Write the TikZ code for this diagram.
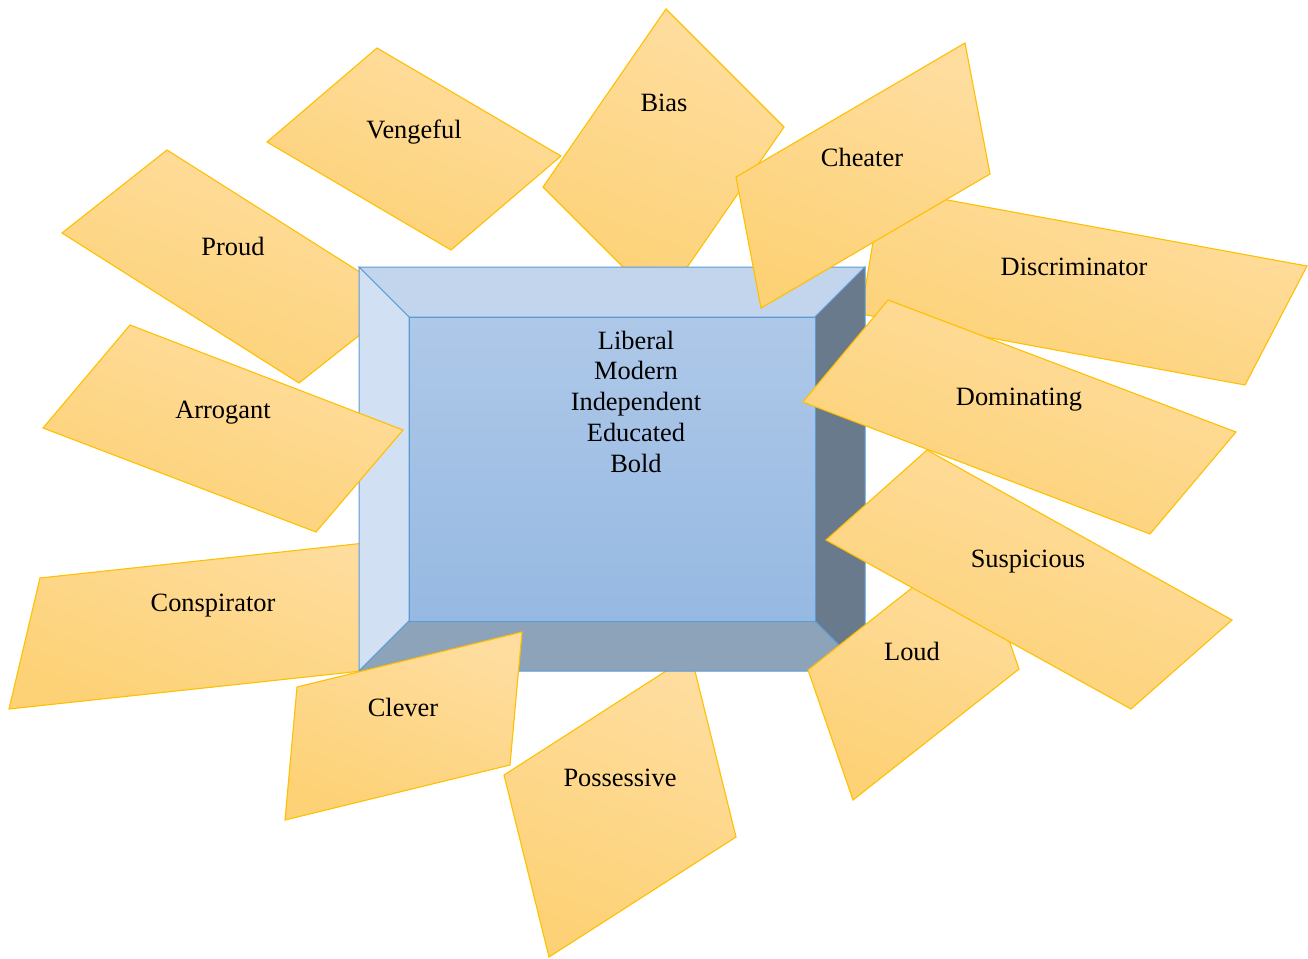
\documentclass[tikz,border=0pt]{standalone}
\usepackage{fontspec}
\setmainfont{Liberation Serif}
\definecolor{cardline}{HTML}{FFC000}
\definecolor{cardlight}{HTML}{FEDD9F}
\definecolor{carddark}{HTML}{FDD175}
\definecolor{boxline}{HTML}{5B9BD5}
\definecolor{bevtop}{HTML}{C2D5ED}
\definecolor{bevleft}{HTML}{D1E0F2}
\definecolor{bevright}{HTML}{6A7A8D}
\definecolor{bevbottom}{HTML}{8DA3BA}
\definecolor{facetop}{HTML}{AEC8E8}
\definecolor{facebottom}{HTML}{96B9E2}
\begin{document}
\begin{tikzpicture}[x=1pt,y=-1pt,
  card/.style={draw=cardline, line width=1.1pt, line join=miter,
    top color=cardlight, bottom color=carddark, shading angle=-20},
  bevel/.style={draw=boxline, line width=1pt, line join=miter},
  lbl/.style={font=\fontsize{26.4}{31}\selectfont, inner sep=0pt, anchor=base, text=black}]
\useasboundingbox (0,0) rectangle (1308,958);

% cards behind the box
\path[card] (377,48) -- (561,156) -- (451,250) -- (267,142) -- cycle;
\path[card] (167,150) -- (404,300) -- (299,383) -- (62,233) -- cycle;
\path[card] (40,578) -- (430,536) -- (399,667) -- (9,709) -- cycle;
\path[card] (666,9) -- (784,127) -- (661,305) -- (543,187) -- cycle;
\path[card] (882,188) -- (1307,266) -- (1245,385) -- (861,314) -- cycle;
\path[card] (691,655) -- (736,837) -- (549,957) -- (504,775) -- cycle;

% bevelled box
\path[bevel, fill=bevtop] (359,267) -- (865,267) -- (815,317) -- (409,317) -- cycle;
\path[bevel, fill=bevleft] (359,267) -- (409,317) -- (409,621) -- (359,671) -- cycle;
\path[bevel, fill=bevright] (865,267) -- (865,671) -- (815,621) -- (815,317) -- cycle;
\path[bevel, fill=bevbottom] (359,671) -- (865,671) -- (815,621) -- (409,621) -- cycle;
\path[bevel, top color=facetop, bottom color=facebottom] (409,317) rectangle (815,621);

\node[lbl] (l1) at (636,349) {Liberal};
\node[lbl] (l2) at (636,379.8) {Modern};
\node[lbl] (l3) at (636,410.6) {Independent};
\node[lbl] (l4) at (636,441.4) {Educated};
\node[lbl] (l5) at (636,472.2) {Bold};

% cards in front of the box
\path[card] (130,325) -- (403,430) -- (316,532) -- (43,428) -- cycle;
\path[card] (522,632) -- (510,765) -- (285,820) -- (297,687) -- cycle;
\path[card] (974,539) -- (1019,669) -- (853,800) -- (808,670) -- cycle;
\path[card] (927,450) -- (1232,620) -- (1131,709) -- (826,540) -- cycle;
\path[card] (888,300) -- (1236,432) -- (1150,534) -- (803,402) -- cycle;
\path[card] (965,43) -- (990,174) -- (761,308) -- (736,177) -- cycle;

% labels
\node[lbl] (vengeful) at (414,138) {Vengeful};
\node[lbl] (proud) at (233,255) {Proud};
\node[lbl] (conspirator) at (213,611) {Conspirator};
\node[lbl] (bias) at (664,111) {Bias};
\node[lbl] (discriminator) at (1074,275) {Discriminator};
\node[lbl] (possessive) at (620,786) {Possessive};
\node[lbl] (arrogant) at (223,418) {Arrogant};
\node[lbl] (clever) at (403,716) {Clever};
\node[lbl] (loud) at (912,660) {Loud};
\node[lbl] (suspicious) at (1028,567) {Suspicious};
\node[lbl] (dominating) at (1019,405) {Dominating};
\node[lbl] (cheater) at (862,166) {Cheater};
\end{tikzpicture}
\end{document}
